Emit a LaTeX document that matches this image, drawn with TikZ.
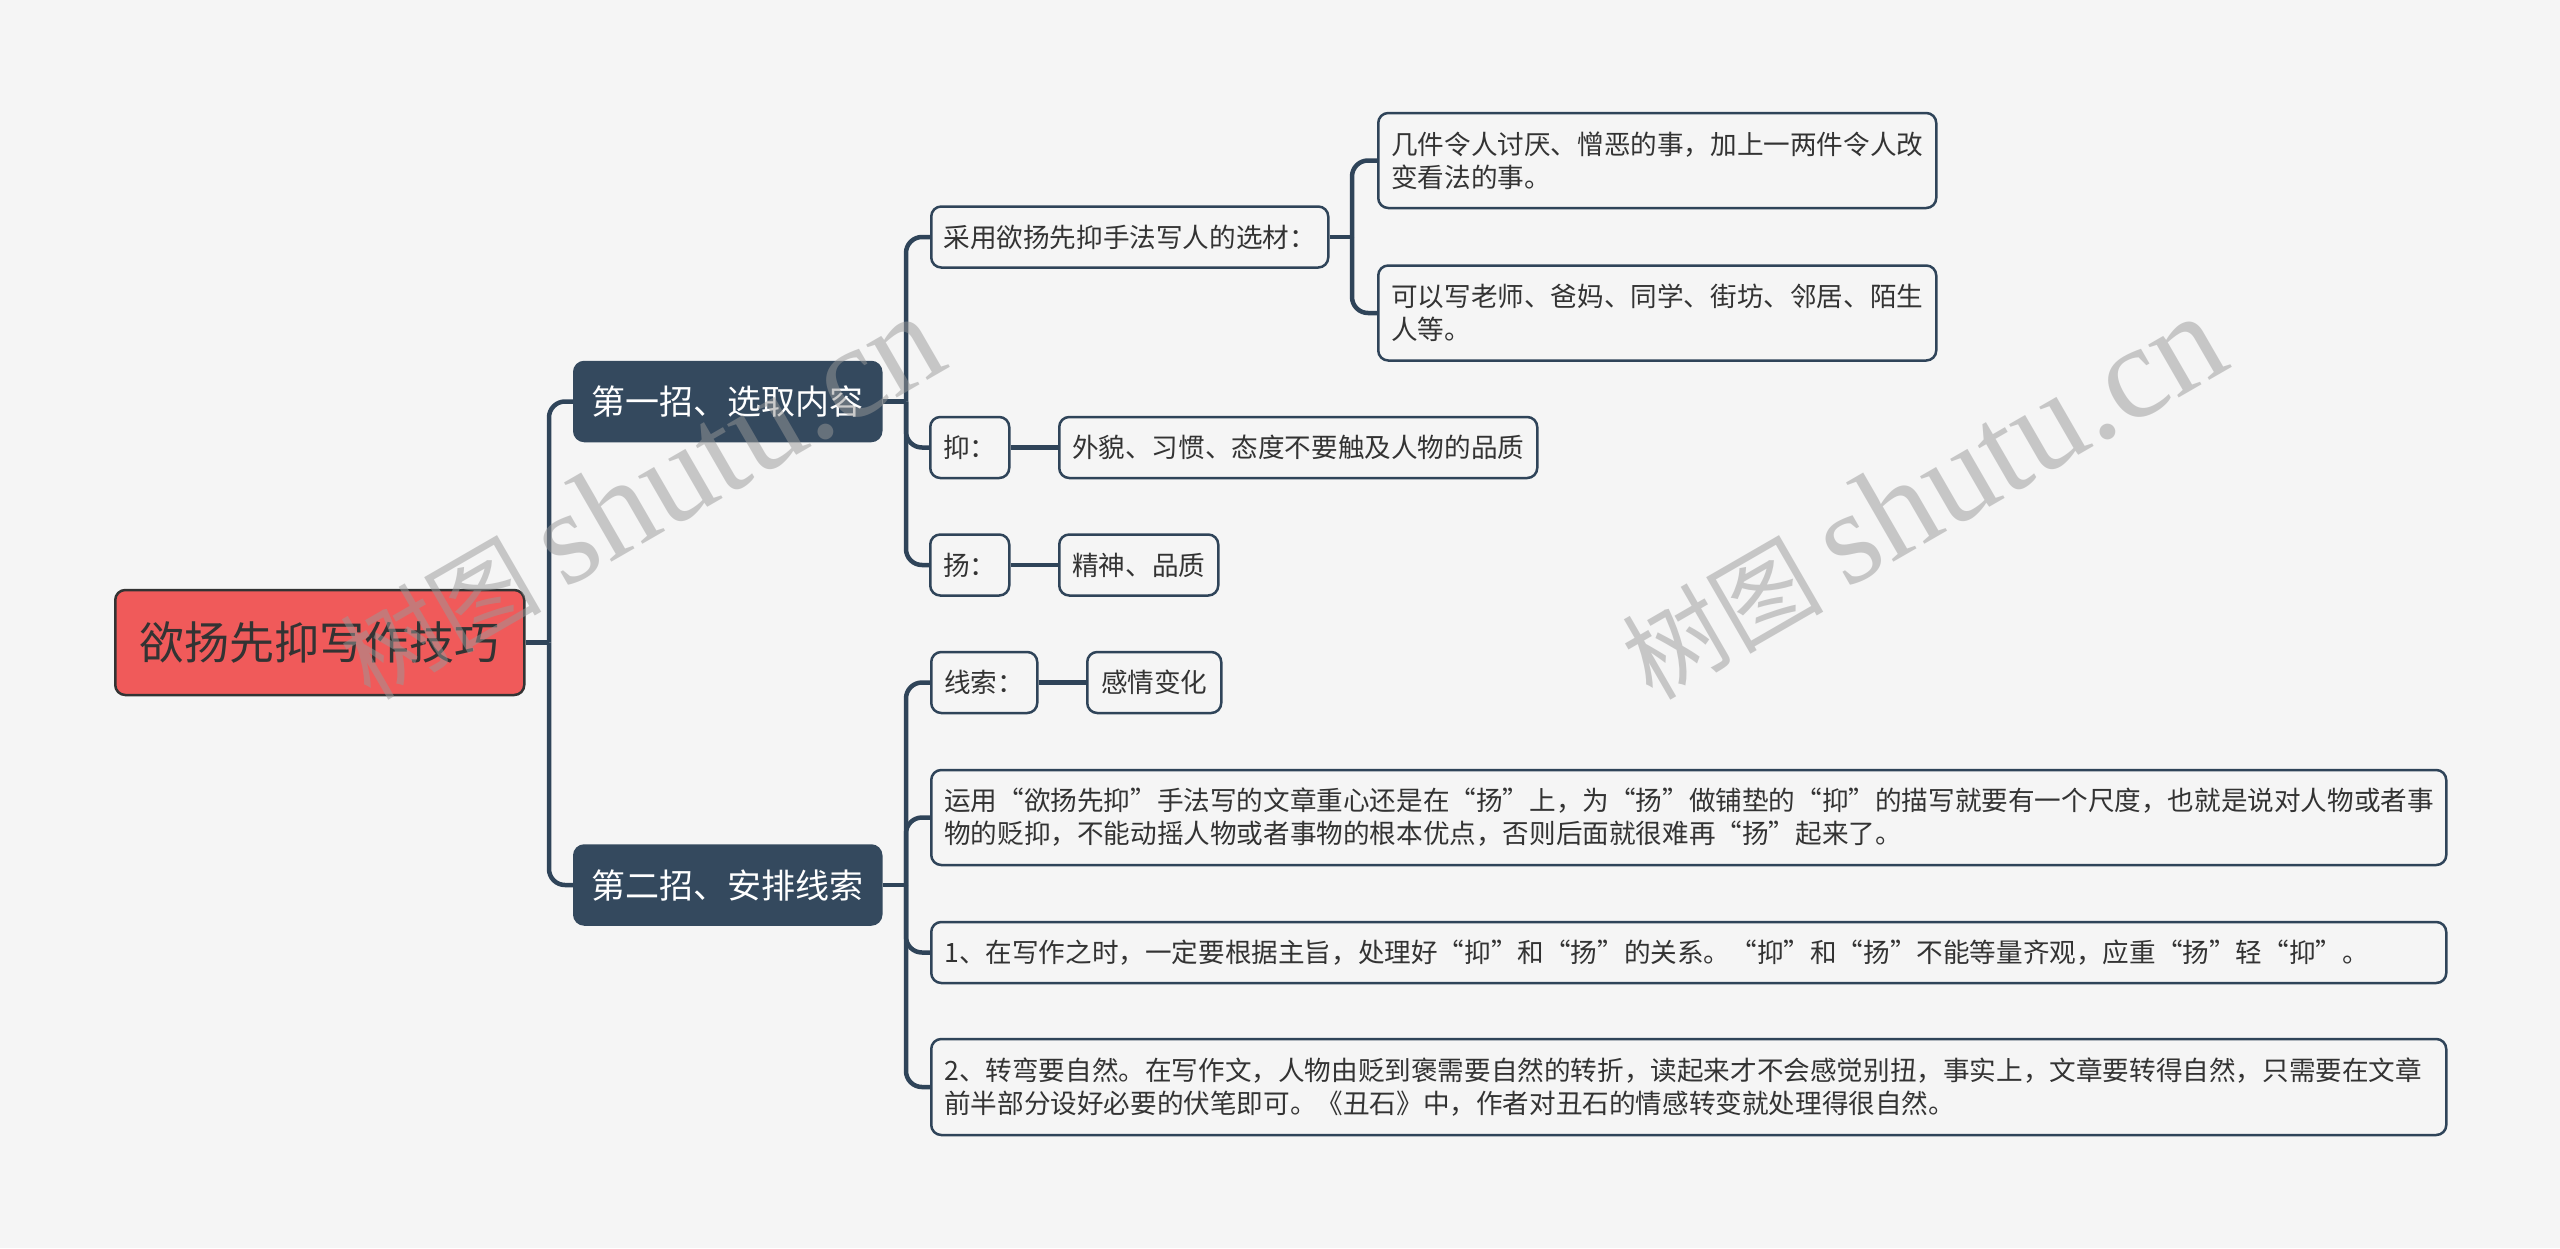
\documentclass[tikz,border=0pt]{standalone}
\usepackage{fontspec}
\newfontfamily\cjk{Noto Sans CJK SC}
\newfontfamily\wmlat{Liberation Serif}
\definecolor{bgc}{HTML}{F5F5F5}
\definecolor{linec}{HTML}{2F4459}
\definecolor{branchc}{HTML}{34495E}
\definecolor{rootc}{HTML}{F05A5A}
\definecolor{txtc}{HTML}{333333}
\definecolor{wmc}{HTML}{999999}
\tikzset{
 conn/.style={draw=linec,line width=4.5pt,rounded corners=16pt},
 rootbox/.style={draw=txtc,line width=2.5pt,fill=rootc,rounded corners=10pt,text=txtc,
   font=\cjk\fontsize{45}{50}\selectfont,anchor=west,minimum width=409pt,minimum height=105pt,inner sep=0pt},
 brbox/.style={draw=branchc,line width=2.5pt,fill=branchc,rounded corners=10pt,text=white,
   font=\cjk\fontsize{34}{40}\selectfont,anchor=west,minimum width=307pt,minimum height=79pt,inner sep=0pt},
 box/.style={draw=linec,line width=2.5pt,fill=bgc,rounded corners=10pt,text=txtc,
   font=\cjk\fontsize{26.6}{33}\selectfont,anchor=west,inner xsep=0pt,inner ysep=0pt,minimum height=61pt,minimum width=#1},
 wide/.style={box=#1,inner xsep=13pt,align=left,text width=#1-26pt},
 wm/.style={text=wmc,opacity=0.5,rotate=30,anchor=base west,inner sep=0pt}
}
\begin{document}
\begin{tikzpicture}[x=1pt,y=-1pt]
\fill[bgc] (0,0) rectangle (2560,1248);
\useasboundingbox (0,0) rectangle (2560,1248);

% nodes
\node[rootbox] (root) at (114,642.5) {欲扬先抑写作技巧};
\node[brbox] (b1) at (573,401.5) {第一招、选取内容};
\node[brbox] (b2) at (573,885) {第二招、安排线索};

\node[box=397pt] (c1) at (930,237) {采用欲扬先抑手法写人的选材：};
\node[wide=558pt,minimum height=95pt] (c1a) at (1377,160.5) {几件令人讨厌、憎恶的事，加上一两件令人改\\变看法的事。};
\node[wide=558pt,minimum height=95pt] (c1b) at (1377,313) {可以写老师、爸妈、同学、街坊、邻居、陌生\\人等。};
\node[box=79pt] (c2) at (929,447.5) {抑：};
\node[box=478pt] (c2a) at (1058,447.5) {外貌、习惯、态度不要触及人物的品质};
\node[box=79pt] (c3) at (929,565) {扬：};
\node[box=159pt] (c3a) at (1058,565) {精神、品质};

\node[box=106pt] (d1) at (930,682.5) {线索：};
\node[box=134pt] (d1a) at (1086,682.5) {感情变化};
\node[wide=1515pt,minimum height=95pt] (d2) at (930,817.5) {运用“欲扬先抑”手法写的文章重心还是在“扬”上，为“扬”做铺垫的“抑”的描写就要有一个尺度，也就是说对人物或者事\\物的贬抑，不能动摇人物或者事物的根本优点，否则后面就很难再“扬”起来了。};
\node[wide=1515pt] (d3) at (930,952.5) {1、在写作之时，一定要根据主旨，处理好“抑”和“扬”的关系。“抑”和“扬”不能等量齐观，应重“扬”轻“抑”。};
\node[wide=1515pt,minimum height=96pt] (d4) at (930,1087) {2、转弯要自然。在写作文，人物由贬到褒需要自然的转折，读起来才不会感觉别扭，事实上，文章要转得自然，只需要在文章\\前半部分设好必要的伏笔即可。《丑石》中，作者对丑石的情感转变就处理得很自然。};

% junctions
\coordinate (j0) at (549,642.5);
\coordinate (j1) at (906,401.5);
\coordinate (j2) at (906,885);
\coordinate (j3) at (1352,237);

% connectors
\draw[conn] (root.east) -- (j0);
\draw[conn] (j0) |- (b1.west);
\draw[conn] (j0) |- (b2.west);

\draw[conn] (b1.east) -- (j1);
\draw[conn] (j1) |- (c1.west);
\draw[conn] (j1) |- (c2.west);
\draw[conn] (j1) |- (c3.west);

\draw[conn] (c1.east) -- (j3);
\draw[conn] (j3) |- (c1a.west);
\draw[conn] (j3) |- (c1b.west);

\draw[conn] (c2.east) -- (c2a.west);
\draw[conn] (c3.east) -- (c3a.west);

\draw[conn] (b2.east) -- (j2);
\draw[conn] (j2) |- (d1.west);
\draw[conn] (j2) |- (d2.west);
\draw[conn] (j2) |- (d3.west);
\draw[conn] (j2) |- (d4.west);
\draw[conn] (d1.east) -- (d1a.west);

% watermarks
\node[wm] (wm1) at (370,702) {\cjk\fontsize{101}{105}\selectfont 树图 \wmlat\fontsize{133}{140}\selectfont shutu.cn};
\node[wm] (wm2) at (1652,702) {\cjk\fontsize{101}{105}\selectfont 树图 \wmlat\fontsize{133}{140}\selectfont shutu.cn};
\end{tikzpicture}
\end{document}
